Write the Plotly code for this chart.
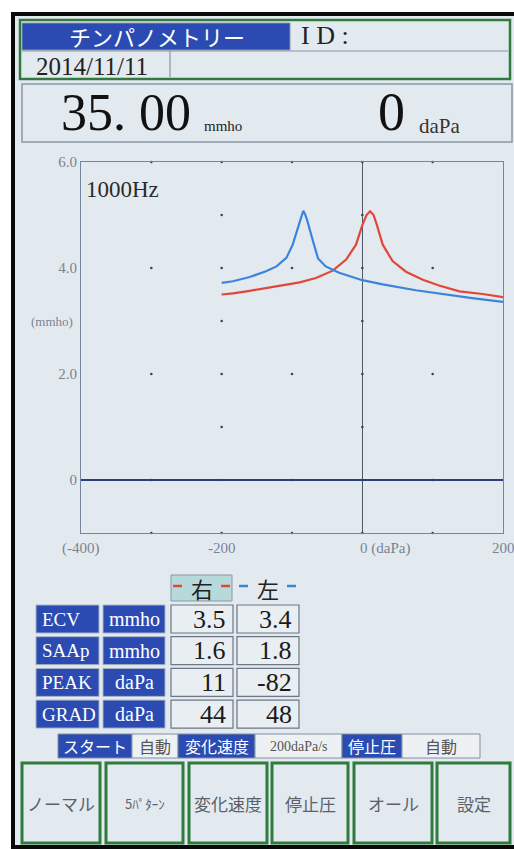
import plotly.graph_objects as go

W, H = 514, 849

# ---------------- data ----------------
right_x = [-200, -184, -160, -137, -113, -89, -66, -42, -23, -9, 0, 6, 11, 16, 21, 29, 43, 62, 86, 109, 138, 171, 200]
right_y = [3.50, 3.52, 3.57, 3.62, 3.67, 3.73, 3.81, 3.95, 4.16, 4.44, 4.81, 5.00, 5.07, 5.00, 4.80, 4.44, 4.13, 3.93, 3.78, 3.67, 3.56, 3.51, 3.45]
left_x = [-200, -184, -160, -137, -122, -108, -99, -92, -87, -84, -81, -78, -70, -63, -52, -33, 0, 29, 76, 123, 156, 200]
left_y = [3.72, 3.75, 3.83, 3.94, 4.03, 4.19, 4.44, 4.75, 4.98, 5.08, 5.00, 4.88, 4.50, 4.18, 4.03, 3.91, 3.77, 3.69, 3.58, 3.49, 3.43, 3.36]

y_tick_vals = [0, 2, 4, 6]
y_tick_text = ["0", "2.0", "4.0", "6.0"]
x_tick_vals = [-400, -200, 0, 200]
x_tick_text = ["(-400)", "-200", "0 (daPa)", "200"]

# grid dots of the device screen
dot_cols_sparse = [-300, -100, 100]
dot_rows_sparse = [-1, 0, 2, 4, 6]
dot_cols_dense = [-200, 0]
dot_rows_dense = [-1, 0, 1, 2, 3, 4, 5, 6]

row_labels = ["ECV", "SAAp", "PEAK", "GRAD"]
row_units = ["mmho", "mmho", "daPa", "daPa"]
right_vals = ["3.5", "1.6", "11", "44"]
left_vals = ["3.4", "1.8", "-82", "48"]

status_items = ["スタート", "自動", "変化速度", "200daPa/s", "停止圧", "自動"]
button_labels = ["ノーマル", "5ﾊﾟﾀｰﾝ", "変化速度", "停止圧", "オール", "設定"]

title_text = "チンパノメトリー"
date_text = "2014/11/11"
admittance_text = "35. 00"
pressure_text = "0"
freq_text = "1000Hz"

# ---------------- styles ----------------
BG = "#e3eaef"
BLUE = "#2b4bb2"
GREEN = "#2f7a3c"
GRAY = "#8a96a6"
RED = "#e2463a"
LBLUE = "#3a84dc"
SERIF = "Liberation Serif"
JP = "Noto Sans CJK JP"


def X(p):
    return p / W


def Y(p):
    return 1 - p / H


shapes = []
annots = []


def rect(x0, y0, x1, y1, fill=None, line=None, lw=1):
    d = dict(type="rect", xref="paper", yref="paper", x0=X(x0), x1=X(x1), y0=Y(y1), y1=Y(y0),
             fillcolor=fill if fill else "rgba(0,0,0,0)", layer="below")
    d["line"] = dict(color=line, width=lw) if line else dict(width=0)
    shapes.append(d)


def hline(x0, x1, y, color, lw=1):
    shapes.append(dict(type="line", xref="paper", yref="paper", x0=X(x0), x1=X(x1), y0=Y(y), y1=Y(y),
                       line=dict(color=color, width=lw), layer="below"))


def vline(x, y0, y1, color, lw=1):
    shapes.append(dict(type="line", xref="paper", yref="paper", x0=X(x), x1=X(x), y0=Y(y0), y1=Y(y1),
                       line=dict(color=color, width=lw), layer="below"))


def txt(s, x, y, size, color, family, xanchor="left", yanchor="middle"):
    annots.append(dict(text=s, x=X(x), y=Y(y), xref="paper", yref="paper", showarrow=False,
                       xanchor=xanchor, yanchor=yanchor, borderpad=0,
                       font=dict(size=size, color=color, family=family)))


# screen background and device frame (left, top, bottom bands)
rect(15, 16, W, 845, fill=BG)
rect(11, 12, 15, H, fill="#0a0a0a")
rect(11, 12, W, 16, fill="#0a0a0a")
rect(11, 845, W, H, fill="#0a0a0a")

# header
rect(20, 20, 510, 79, fill=BG, line=GREEN, lw=2.5)
rect(22, 23, 290, 50, fill=BLUE, line=GRAY, lw=1)
hline(22, 508, 51, GRAY, 1.2)
vline(170, 51, 77, GRAY, 1.2)
txt(title_text, 157, 36, 22, "white", JP, xanchor="center")
txt("I D :", 300, 36, 26, "#222", SERIF)
txt(date_text, 35, 66, 25, "#222", SERIF)

# value box
rect(22, 84, 512, 142, line=GRAY, lw=1.5)
txt(admittance_text, 60, 112, 52, "#111", SERIF)
txt("mmho", 203, 126, 15, "#222", SERIF)
txt(pressure_text, 377, 112, 54, "#111", SERIF)
txt("daPa", 418, 126, 21, "#333", SERIF)

# table header
rect(171, 575, 232, 601, fill="#b7d9da", line=GRAY, lw=1)
txt("右", 201.5, 588, 22, "#222", JP, xanchor="center")
txt("左", 267.5, 588, 22, "#222", JP, xanchor="center")
for (a, b, c) in [(173, 182, RED), (221, 230, RED), (239, 248, LBLUE), (287, 296, LBLUE)]:
    hline(a, b, 586, c, 2.5)

# table rows
for i, (lab, unit, rv, lv) in enumerate(zip(row_labels, row_units, right_vals, left_vals)):
    y0 = 605 + i * 31.7
    y1 = y0 + 28
    ym = (y0 + y1) / 2
    rect(36, y0, 99, y1, fill=BLUE, line="#a8b4c4", lw=1)
    rect(103, y0, 165, y1, fill=BLUE, line="#a8b4c4", lw=1)
    rect(171, y0, 233, y1, fill="#e8eef2", line="#6c7684", lw=1.2)
    rect(237, y0, 299, y1, fill="#e8eef2", line="#6c7684", lw=1.2)
    txt(lab, 41, ym, 19, "white", SERIF)
    txt(unit, 134, ym, 20, "white", SERIF, xanchor="center")
    txt(rv, 227, ym, 26, "#1a1a1a", SERIF, xanchor="right")
    txt(lv, 293, ym, 26, "#1a1a1a", SERIF, xanchor="right")

# status bar
status_edges = [58, 132, 178, 255, 342, 402, 480]
for k, s in enumerate(status_items):
    a, b = status_edges[k], status_edges[k + 1]
    blue = k % 2 == 0
    rect(a, 734, b, 758, fill=BLUE if blue else "#edf1f4", line="#8390a0", lw=1)
    if s.startswith("200"):
        txt(s, (a + b) / 2, 746, 14, "#555", SERIF, xanchor="center")
    else:
        txt(s, (a + b) / 2, 746, 16, "white" if blue else "#555", JP, xanchor="center")

# buttons
button_edges = [(22, 100), (106, 183), (189, 267), (272, 348), (354, 432), (437, 510)]
for (a, b), s in zip(button_edges, button_labels):
    rect(a, 763, b, 843, fill=BG, line=GREEN, lw=3)
    txt(s, (a + b) / 2, 803, 13 if s.startswith("5") else 17, "#5a616b", JP, xanchor="center")

# ---------------- plot ----------------
fig = go.Figure()

dx, dy = [], []
for c in dot_cols_sparse:
    for r in dot_rows_sparse:
        dx.append(c)
        dy.append(r)
for c in dot_cols_dense:
    for r in dot_rows_dense:
        dx.append(c)
        dy.append(r)
fig.add_trace(go.Scatter(x=dx, y=dy, mode="markers", marker=dict(size=2.6, color="#3c4454"),
                         hoverinfo="skip", showlegend=False, cliponaxis=False))
fig.add_trace(go.Scatter(x=right_x, y=right_y, mode="lines", line=dict(color=RED, width=2.2),
                         name="右", showlegend=False))
fig.add_trace(go.Scatter(x=left_x, y=left_y, mode="lines", line=dict(color=LBLUE, width=2.2),
                         name="左", showlegend=False))

for v, t in zip(x_tick_vals, x_tick_text):
    annots.append(dict(text=t, x=v, y=Y(539), xref="x", yref="paper", showarrow=False,
                       xanchor="left" if v == 0 else "center", yanchor="top", borderpad=0,
                       xshift=-3 if v == 0 else 0,
                       font=dict(size=15, color="#7a8392", family=SERIF)))
annots.append(dict(text="(mmho)", x=X(74), y=3, xref="paper", yref="y", showarrow=False,
                   xanchor="right", yanchor="middle", borderpad=0,
                   font=dict(size=13, color="#7a8392", family=SERIF)))
txt(freq_text, 85, 189, 23, "#2a2a2a", SERIF)

fig.update_layout(
    template="none",
    width=W, height=H, autosize=False,
    margin=dict(l=0, r=0, t=0, b=0, pad=0, autoexpand=False),
    paper_bgcolor="white", plot_bgcolor="rgba(0,0,0,0)",
    shapes=shapes, annotations=annots, showlegend=False,
    xaxis=dict(domain=[X(81), X(503)], range=[-400, 200], showgrid=False, automargin=False,
               zeroline=True, zerolinecolor="#4e586c", zerolinewidth=1.2,
               showline=True, mirror=True, linecolor="#7686a0", linewidth=1,
               showticklabels=False, ticks="", fixedrange=True),
    yaxis=dict(domain=[Y(533), Y(162)], range=[-1, 6], showgrid=False, automargin=False,
               zeroline=True, zerolinecolor="#2c3d7a", zerolinewidth=1.6,
               showline=True, mirror=True, linecolor="#7686a0", linewidth=1,
               tickvals=y_tick_vals, ticktext=y_tick_text, ticks="",
               tickfont=dict(size=15, color="#7a8392", family=SERIF), fixedrange=True),
)

fig.write_html("out.html", config={"displayModeBar": False, "staticPlot": True},
               post_script="document.body.style.margin='0';document.body.style.overflow='hidden';")
